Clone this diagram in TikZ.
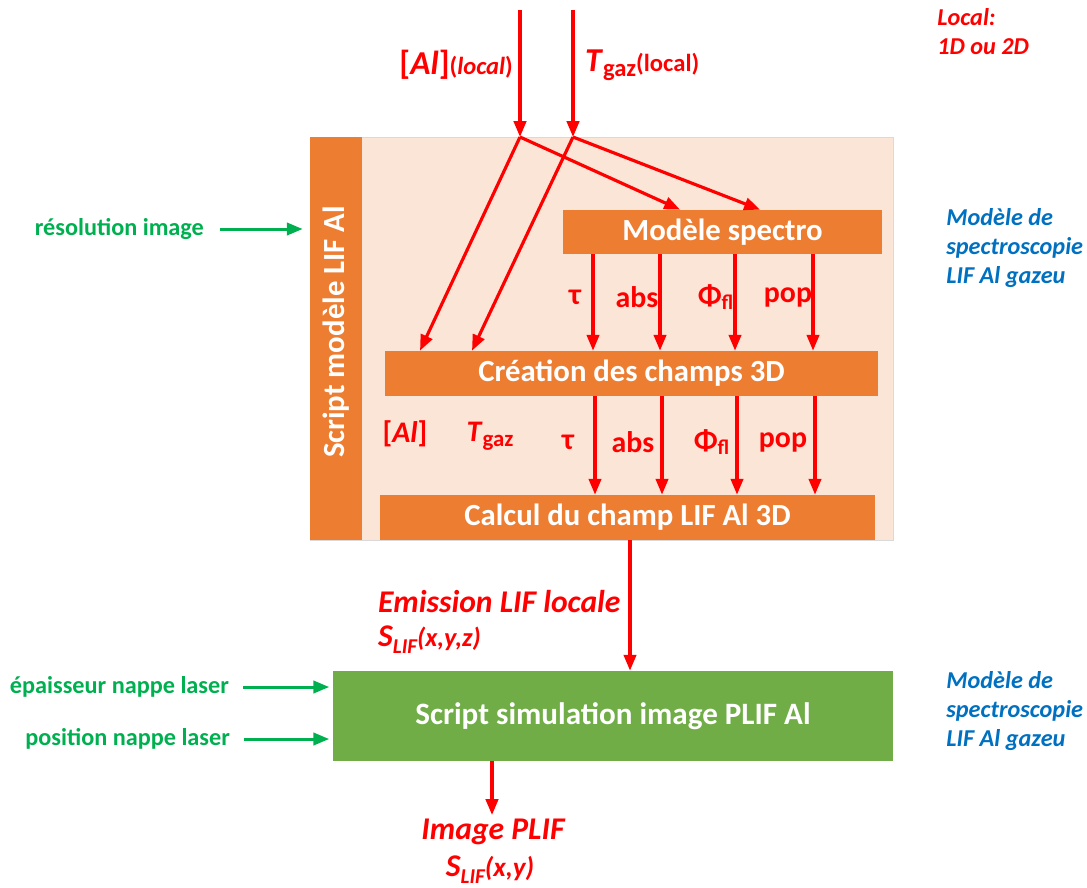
\documentclass[tikz,border=0pt]{standalone}
\usepackage{fontspec}
\setmainfont{Carlito}
\usetikzlibrary{
  arrows.meta
}
\definecolor{orangebox}{HTML}{ED7D31}
\definecolor{peach}{HTML}{FBE5D6}
\definecolor{greenbox}{HTML}{70AD47}
\definecolor{greentext}{HTML}{00B050}
\definecolor{bluetext}{HTML}{0070C0}
\definecolor{redtext}{HTML}{FF0000}

\begin{document}
\begin{tikzpicture}[x=0.02cm,y=-0.02cm,
  >={Triangle[length=9pt,width=7pt]},
  boxo/.style={fill=orangebox,text=white,inner sep=0pt,
    font=\fontsize{17.5}{20}\selectfont\bfseries},
  redarrow/.style={->,draw=redtext,line width=1.8pt},
  greenarrow/.style={->,draw=greentext,line width=1.7pt},
  redlab/.style={text=redtext,inner sep=1pt,
    font=\fontsize{17}{20}\selectfont\bfseries},
  redit/.style={redlab,font=\fontsize{18}{21}\selectfont\bfseries\itshape},
  greenlab/.style={text=greentext,inner sep=1pt,
    font=\fontsize{13.8}{16}\selectfont\bfseries},
  bluelab/.style={text=bluetext,inner sep=0pt,align=left,
    font=\fontsize{13.8}{16.5}\selectfont\bfseries\itshape}
]

  \useasboundingbox (0,0) rectangle (1087,887);

  % cadre du script
  \node[fill=peach,draw=black!15,minimum width=11.66cm,
    minimum height=8.06cm,inner sep=0pt] (frame) at (601.5,338.5) {};
  \node[boxo,minimum width=1.04cm,minimum height=8.06cm]
    (bar) at (336,338.5) {};
  \node[boxo,fill=none,rotate=90] (barlab) at (336,332)
    {Script modèle LIF Al};

  % blocs
  \node[boxo,minimum width=6.38cm,minimum height=0.88cm]
    (spectro) at (722.5,232) {Modèle spectro};
  \node[boxo,minimum width=9.86cm,minimum height=0.9cm]
    (champs) at (631.5,373.5) {Création des champs 3D};
  \node[boxo,minimum width=9.9cm,minimum height=0.9cm]
    (calcul) at (627.5,517.5) {Calcul du champ LIF Al 3D};
  \node[boxo,fill=greenbox,minimum width=11.2cm,minimum height=1.8cm,
    font=\fontsize{17.7}{20}\selectfont\bfseries]
    (sim) at (613,716) {Script simulation image PLIF Al};

  % entrées locales
  \coordinate (sA) at (520,10);
  \coordinate (sB) at (573,10);
  \coordinate (jA) at (520,137);
  \coordinate (jB) at (573,137);
  \draw[redarrow] (sA) -- (jA);
  \draw[redarrow] (sB) -- (jB);
  \draw[redarrow] (jA) -- (680,0 |- spectro.north);
  \draw[redarrow] (jB) -- (760,0 |- spectro.north);
  \draw[redarrow] (jA) -- (420,0 |- champs.north);
  \draw[redarrow] (jB) -- (472,0 |- champs.north);

  \node[redlab,anchor=east,font=\fontsize{19}{22}\selectfont\bfseries]
    (alloc) at (515,65)
    {[\textit{Al}]{\fontsize{14}{16}\selectfont(\textit{local})}};
  \node[redlab,anchor=west,font=\fontsize{19}{22}\selectfont\bfseries]
    (tloc) at (583,65)
    {\textit{T}{\fontsize{14}{16}\selectfont\raisebox{-3pt}{gaz}(local)}};

  % sorties du modèle spectro
  \foreach \x in {593,660,735,813}
    \draw[redarrow] (\x,0 |- spectro.south) -- (\x,0 |- champs.north);
  \foreach \x/\lab in {575/τ,637/abs,716/{Φ\textsubscript{fl}},788/pop}
    \node[redlab] (up\x) at (\x,297) {\lab};

  % champs 3D
  \foreach \x in {595,662,737,815}
    \draw[redarrow] (\x,0 |- champs.south) -- (\x,0 |- calcul.north);
  \foreach \x/\lab in {568/τ,633/abs,712/{Φ\textsubscript{fl}},783/pop}
    \node[redlab] (lo\x) at (\x,442) {\lab};
  \node[redlab] (al3d) at (405,434) {[\textit{Al}]};
  \node[redlab] (tg3d) at (490,436)
    {\textit{T}{\fontsize{13}{15}\selectfont\raisebox{-3pt}{gaz}}};

  % émission locale
  \draw[redarrow] (630,0 |- calcul.south) -- (630,0 |- sim.north);
  \node[redit,anchor=west] (emis) at (376,602) {Emission LIF locale};
  \node[redit,anchor=west] (slif3) at (376,640)
    {S{\fontsize{12}{14}\selectfont\raisebox{-4pt}{LIF}}{\fontsize{15}{17}\selectfont(x,y,z)}};

  % image PLIF
  \coordinate (imgtip) at (492,815);
  \draw[redarrow] (492,0 |- sim.south) -- (imgtip);
  \node[redit] (img) at (493,832) {Image PLIF};
  \node[redit] (slif2) at (490,870)
    {S{\fontsize{12}{14}\selectfont\raisebox{-4pt}{LIF}}{\fontsize{15.5}{17}\selectfont(x,y)}};

  % paramètres
  \node[greenlab,anchor=east] (res) at (206,229) {résolution image};
  \draw[greenarrow] ([xshift=8pt]res.east) -- ([xshift=-4pt]frame.west |- res.east);
  \node[greenlab,anchor=east] (epa) at (231,687) {épaisseur nappe laser};
  \draw[greenarrow] ([xshift=7pt]epa.east) -- ([xshift=-2pt]sim.west |- epa.east);
  \node[greenlab,anchor=east] (pos) at (232,739) {position nappe laser};
  \draw[greenarrow] ([xshift=7pt]pos.east) -- ([xshift=-2pt]sim.west |- pos.east);

  % notes
  \node[bluelab,anchor=west] (note1) at (946,248)
    {Modèle de\\spectroscopie\\LIF Al gazeu};
  \node[bluelab,anchor=west] (note2) at (946,711)
    {Modèle de\\spectroscopie\\LIF Al gazeu};
  \node[bluelab,text=redtext,anchor=west] (local) at (937,32)
    {Local:\\1D ou 2D};

\end{tikzpicture}
\end{document}
